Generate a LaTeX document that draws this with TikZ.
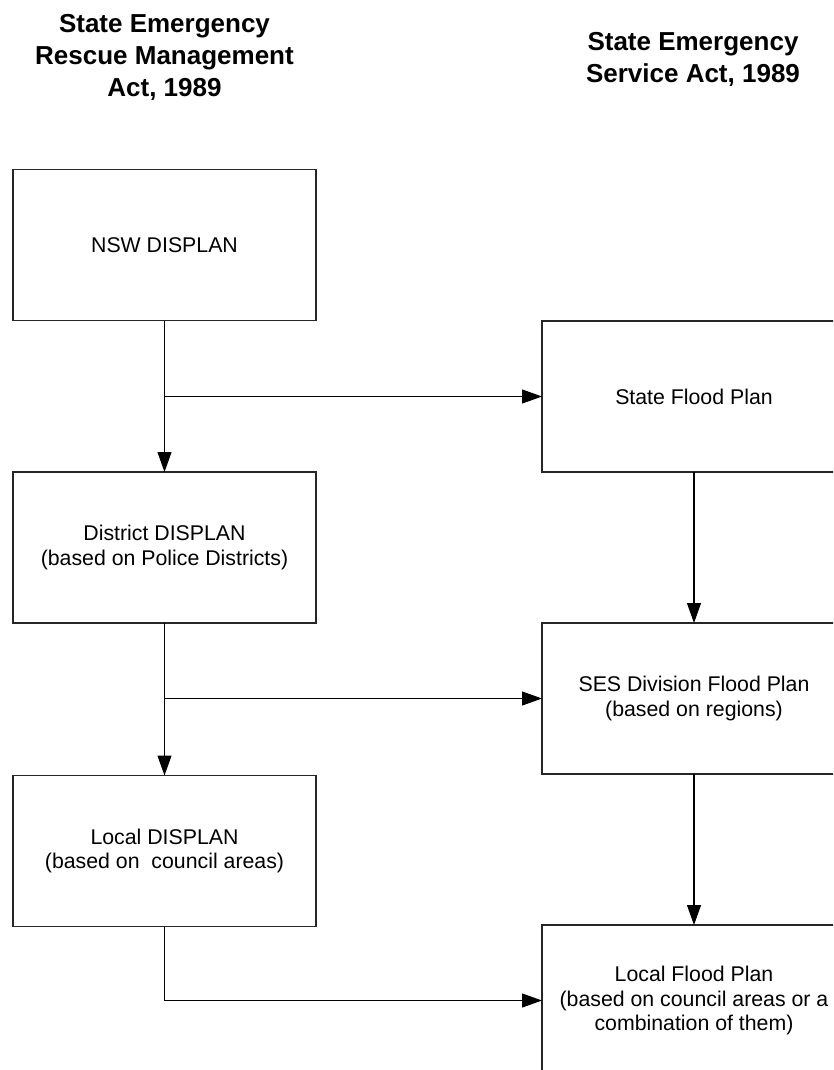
\documentclass[tikz,border=0pt]{standalone}
\usepackage{fontspec}
\setmainfont{Liberation Sans}
\usetikzlibrary{arrows.meta}
\tikzset{
  planbox/.style={draw=black!85, line width=1.1pt, fill=white, inner sep=0pt, outer sep=0pt,
    minimum width=#1, minimum height=151pt, align=center,
    font=\fontsize{21.3}{24.8}\selectfont},
  planbox/.default=303pt,
  heading/.style={align=center, inner sep=0pt, font=\fontsize{26}{32}\selectfont\bfseries},
  flow/.style={draw=black, line width=1.1pt, -{Triangle[length=20pt,width=14pt]}},
  link/.style={draw=black, line width=1.1pt}
}
\begin{document}
\begin{tikzpicture}[x=1pt,y=-1pt]
\useasboundingbox (0,0) rectangle (833,1070);
\clip (0,0) rectangle (833,1070);
\fill[white] (0,0) rectangle (833,1070);
% headings
\node[heading] (h1) at (164.5,57) {State Emergency\\Rescue Management\\Act, 1989};
\node[heading] (h2) at (693,59) {State Emergency\\Service Act, 1989};
% left column
\node[planbox] (n1) at (164.5,245) {NSW DISPLAN};
\node[planbox] (n2) at (164.5,547.5) {District DISPLAN\\(based on Police Districts)};
\node[planbox] (n3) at (164.5,851) {Local DISPLAN\\(based on\ \ council areas)};
% right column
\node[planbox=304pt] (r1) at (694,396.5) {State Flood Plan};
\node[planbox=304pt] (r2) at (694,698.5) {SES Division Flood Plan\\(based on regions)};
\node[planbox=304pt] (r3) at (694,1000.5) {Local Flood Plan\\(based on council areas or a\\combination of them)};
% connectors
\coordinate (b1) at (n1.south |- r1.west);
\coordinate (b2) at (n2.south |- r2.west);
\draw[flow] (n1.south) -- (n2.north);
\draw[flow] (b1) -- (r1.west);
\draw[flow] (n2.south) -- (n3.north);
\draw[flow] (b2) -- (r2.west);
\draw[flow] (n3.south) |- (r3.west);
\draw[flow] (r1.south) -- (r2.north);
\draw[flow] (r2.south) -- (r3.north);
\end{tikzpicture}
\end{document}
